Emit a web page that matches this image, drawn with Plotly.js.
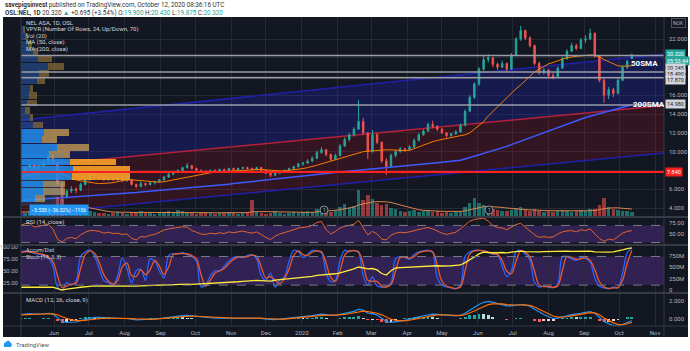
<!DOCTYPE html>
<html><head><meta charset="utf-8">
<script src="https://cdn.plot.ly/plotly-3.0.1.min.js"></script>
<style>html,body{margin:0;padding:0;background:#fff;}#chart{width:690px;height:351px;}</style>
</head><body><div id="chart"></div>
<script>
const startDate = '2019-05-03';
const stepDays = 4;
const openP = [7.8,8.0,8.3,8.6,8.2,8.5,8.8,9.5,8.9,6.6, 5.2,5.8,6.0,5.9,6.5,7.0,7.4,7.5,7.3,7.0, 7.2,7.0,7.1,6.9,7.0,6.5,6.3,6.6,6.5,6.7, 6.8,7.0,7.3,7.6,7.8,8.0,8.3,8.5,8.2,8.0, 7.9,7.8,8.0,7.9,8.1,8.0,8.2,8.1,8.2,8.3, 8.2,8.1,8.3,8.0,7.7,7.5,7.7,7.9,8.0,8.2, 8.4,8.7,8.8,9.0,9.3,9.9,10.2,9.7,9.2,9.6, 10.6,11.3,11.8,12.4,13.2,12.0,10.0,11.8,11.0,9.0, 8.4,9.6,10.0,10.3,10.2,10.5,11.2,11.8,12.2,12.9, 12.7,12.4,12.0,11.7,11.9,12.1,12.8,14.3,15.8,17.2, 18.8,19.8,20.0,19.3,19.0,19.4,18.8,20.3,22.0,22.9, 22.1,21.3,19.4,18.4,18.7,18.1,18.0,18.9,19.9,20.7, 21.3,21.0,21.9,22.0,22.6,20.2,17.6,16.0,16.6,16.2, 17.6,19.0,19.9];
const highP = [8.2,8.4,8.7,8.7,8.6,9.0,9.9,9.7,9.0,6.7, 6.0,6.3,6.2,6.7,7.2,7.6,7.8,7.6,7.4,7.4, 7.3,7.3,7.2,7.2,7.1,6.6,6.8,6.7,6.8,6.9, 7.1,7.4,7.7,7.9,8.1,8.4,8.8,8.6,8.3,8.1, 8.0,8.1,8.1,8.2,8.2,8.3,8.3,8.3,8.4,8.4, 8.3,8.4,8.4,8.1,7.8,7.8,8.0,8.1,8.3,8.5, 8.8,8.9,9.2,9.5,10.1,10.5,10.3,9.8,9.8,10.8, 11.5,12.0,12.6,15.5,13.6,12.1,12.3,12.0,11.1,9.3, 9.8,10.2,10.5,10.4,10.7,11.4,12.0,12.4,13.1,13.3, 12.8,12.5,12.1,12.0,12.3,13.0,14.5,16.0,17.4,19.0, 20.2,20.4,20.1,19.5,19.7,19.5,20.5,22.2,23.4,23.0, 22.3,21.4,19.6,18.9,18.8,18.4,19.1,20.1,20.9,21.6, 21.5,22.1,22.4,23.1,22.7,20.3,17.8,16.9,16.8,17.8, 19.2,19.8,20.43];
const lowP = [7.7,7.9,8.2,8.1,8.1,8.4,8.7,8.8,6.4,4.6, 5.0,5.6,5.6,5.8,6.4,6.9,7.2,7.1,6.9,6.9, 6.9,6.9,6.8,6.8,6.4,6.1,6.2,6.3,6.4,6.5, 6.7,6.9,7.2,7.5,7.7,7.9,8.2,8.1,7.9,7.8, 7.7,7.7,7.8,7.8,7.9,7.9,8.0,8.0,8.1,8.1, 8.0,8.0,7.9,7.6,7.3,7.4,7.6,7.8,7.9,8.1, 8.3,8.5,8.7,8.9,9.2,9.8,9.5,9.0,9.1,9.5, 10.5,11.1,11.6,12.3,11.8,9.2,9.9,10.8,8.8,7.5, 8.3,9.4,9.9,10.0,10.1,10.4,11.1,11.7,12.1,12.5, 12.2,11.9,11.5,11.6,11.8,12.0,12.7,14.2,15.6,17.0, 18.6,19.5,19.0,18.7,18.9,18.5,18.7,20.2,21.8,21.9, 21.1,19.2,18.2,18.2,17.8,17.7,17.9,18.8,19.8,20.6, 20.8,20.9,21.6,21.9,20.0,17.4,15.2,15.6,15.8,16.1, 17.5,18.8,19.875];
const closeP = [8.0,8.3,8.6,8.2,8.5,8.8,9.5,8.9,6.6,5.2, 5.8,6.0,5.9,6.5,7.0,7.4,7.5,7.3,7.0,7.2, 7.0,7.1,6.9,7.0,6.5,6.3,6.6,6.5,6.7,6.8, 7.0,7.3,7.6,7.8,8.0,8.3,8.5,8.2,8.0,7.9, 7.8,8.0,7.9,8.1,8.0,8.2,8.1,8.2,8.3,8.2, 8.1,8.3,8.0,7.7,7.5,7.7,7.9,8.0,8.2,8.4, 8.7,8.8,9.0,9.3,9.9,10.2,9.7,9.2,9.6,10.6, 11.3,11.8,12.4,13.2,12.0,10.0,11.8,11.0,9.0,8.4, 9.6,10.0,10.3,10.2,10.5,11.2,11.8,12.2,12.9,12.7, 12.4,12.0,11.7,11.9,12.1,12.8,14.3,15.8,17.2,18.8, 19.8,20.0,19.3,19.0,19.4,18.8,20.3,22.0,22.9,22.1, 21.3,19.4,18.4,18.7,18.1,18.0,18.9,19.9,20.7,21.3, 21.0,21.9,22.0,22.6,20.2,17.6,16.0,16.6,16.2,17.6, 19.0,19.625,20.32];
const volume = [5,4,6,5,4,5,8,6, 20,18,12,9,7,10,8,6,5, 4,4,3,4,5,4,3,4,5,6,4,4,3,4,5,6,5,7,6,4,4,3,4,5,4,3,4,4,5,4,3,4,5, 17, 5,4,3,4,6,4,3,4,5,4,5,6,5, 8,10,6,5,7,10,13,9,11,27,17,22,18,14,12,13,9,8, 6,5,6,7,5,6,7,5,6,4,5,4,5,6, 10,14,19,14,12,9,8,7,6,6,7,9,10, 7,6,8,6,5,6,5,6,7,6,5,6,7,6,8, 8,12,19,10,8,7,6,6,5];
const volMA = [5,5,5,5,5,5,5.5,5.5, 7,9,10,11,11,11,10,9,8, 7,6,5.5,5,4.8,4.6,4.5,4.5,4.5,4.6,4.6,4.5,4.4,4.4,4.5,4.7,4.9,5,5,4.9,4.7,4.5,4.4,4.4,4.3,4.2,4.2,4.2,4.3,4.3,4.3,4.3,4.4, 5.2, 5.5,5.5,5.4,5.3,5.2,4.8,4.5,4.4,4.4,4.4,4.5,4.6,4.7, 5,5.5,6,6.3,6.7,7.3,8.2,9,10,12,13.2,14.2,15,15.4,15.5,15.2,14.5,13.3, 12,10.5,9,8,7.2,6.6,6.2,6,5.8,5.7,5.6,5.5,5.5,5.6, 6.2,7.2,8.6,9.6,10.3,10.6,10.5,10.1,9.6,9,8.4,8,7.8, 7.4,7,6.9,6.7,6.5,6.3,6.2,6.1,6.1,6.1,6.1,6.1,6.2,6.2,6.3, 6.5,7.2,8.4,9,9.2,9.1,8.8,8.4,8];
const sma50 = [7.3,7.4,7.5,7.6,7.7,7.8,7.9,7.9,7.8,7.6, 7.4,7.2,7.0,6.9,6.8,6.7,6.65,6.6,6.6,6.65, 6.7,6.8,6.9,7.0,7.0,6.95,6.9,6.85,6.8,6.75, 6.75,6.8,6.9,7.0,7.1,7.2,7.3,7.4,7.5,7.6, 7.7,7.75,7.8,7.85,7.9,7.9,7.95,8.0,8.0,8.05, 8.1,8.1,8.1,8.05,8.0,7.95,7.95,7.95,8.0,8.05, 8.1,8.2,8.3,8.4,8.55,8.7,8.85,9.0,9.1,9.25, 9.4,9.55,9.7,9.85,10.0,10.05,10.1,10.15,10.2,10.2, 10.2,10.15,10.1,10.1,10.15,10.3,10.5,10.7,10.9,11.05, 11.2,11.3,11.4,11.5,11.6,11.7,11.8,12.0,12.4,12.8, 13.2,13.8,14.3,14.8,15.2,15.7,16.2,16.7,17.1,17.6, 18.1,18.5,18.8,19.1,19.35,19.5,19.7,19.85,20.0,20.1, 20.15,20.2,20.25,20.3,20.25,20.1,19.8,19.6,19.35,19.15, 19.1,19.1,19.15];
const sma200 = [4.8,4.83,4.87,4.9,4.94,4.97,5.0,5.04,5.07,5.1, 5.14,5.17,5.2,5.24,5.27,5.31,5.34,5.37,5.41,5.44, 5.48,5.51,5.55,5.58,5.61,5.65,5.7,5.74,5.79,5.83, 5.88,5.92,5.96,6.01,6.05,6.1,6.14,6.19,6.23,6.28, 6.32,6.37,6.41,6.45,6.5,6.54,6.6,6.65,6.71,6.76, 6.81,6.87,6.92,6.98,7.03,7.08,7.14,7.19,7.24,7.3, 7.35,7.41,7.46,7.51,7.57,7.62,7.68,7.73,7.78,7.84, 7.89,7.95,8.0,8.05,8.09,8.14,8.18,8.23,8.28,8.32, 8.37,8.41,8.46,8.51,8.55,8.6,8.64,8.69,8.74,8.78, 8.83,8.87,8.92,8.97,9.01,9.08,9.22,9.36,9.5,9.64, 9.78,9.92,10.06,10.2,10.37,10.56,10.75,10.93,11.12,11.31, 11.5,11.69,11.87,12.06,12.24,12.42,12.6,12.79,12.97,13.15, 13.33,13.5,13.64,13.78,13.92,14.06,14.19,14.33,14.47,14.61, 14.75,14.88,15.0];
const rsi = [70,74,75,66,68,70,73,62,38,31, 40,42,39,48,54,58,58,56,52,54, 51,52,49,50,40,36,44,43,47,49, 54,59,62,64,66,67,66,58,54,50, 49,52,50,53,51,55,53,55,57,54, 52,55,48,42,37,45,50,53,57,60, 64,65,67,70,77,79,60,50,56,64, 68,70,73,82,64,48,56,50,38,36, 47,52,54,53,55,58,61,63,65,62, 57,52,49,51,54,62,72,80,84,86, 87,80,70,65,64,60,66,72,75,66, 58,48,42,44,42,43,50,55,57,58, 55,60,58,62,50,40,33,38,36,45, 52,56,58];
const stochK = [90,92,89,87,85,82,78,60,16,10, 25,20,28,80,90,94,80,55,30,25, 20,40,77,55,25,50,53,30,75,70, 50,35,82,86,85,88,84,80,70,16, 20,40,50,50,60,70,78,80,78,82, 84,75,40,30,45,16,30,37,70,93, 90,78,85,93,92,88,45,27,30,72, 93,90,93,88,40,20,37,18,16,17, 25,75,80,78,74,85,90,92,93,88, 35,20,16,14,12,20,80,90,93,93, 92,88,85,84,60,38,50,90,93,85, 73,25,16,18,16,15,22,79,80,75, 72,78,76,68,35,18,14,12,16,14, 45,88,98];
const stochD = [88,90,90,88,86,84,80,70,40,15, 18,22,24,55,84,92,87,68,42,28, 22,30,58,66,40,38,52,42,52,72, 60,42,58,84,86,86,86,82,75,42, 18,30,45,50,55,65,74,79,79,80, 83,80,58,35,38,30,23,34,54,82, 92,84,82,89,92,90,66,36,28,50, 83,92,92,90,64,30,28,28,17,16, 21,50,78,79,76,80,88,91,92,90, 62,28,18,15,13,16,50,85,92,93, 92,90,86,84,72,49,44,70,92,89, 79,49,20,17,17,15,18,50,80,78, 74,75,77,72,52,27,16,13,14,15, 30,66,93];
const accumDistM = [60,62,65,63,66,68,70,62, 30,0,20,40,45,60,75,85,90, 88,86,90,92,95,93,90,88,86,90,95,98,100,105, 110,115,120,125,130,128,125,130,132,135,138,140,145,150,160,170,180,190,200,205, 210,205,200,195,215,225,235,245,255,262,270,285,300,320,330, 325,340,355,372,400,430,460,503,480,460,470,440,360,328,420, 481,490,495,503,510,520,530,535,540,530,525,520,530,540,547, 600,656,720,790,830,820,810,815,820,810,830,845,850,840,835, 830,835,840,845,840,850,855,850,845,850,855,860,850,835,830, 825,830,835,850,880,905,920];
const macd = [0.45,0.5,0.55,0.5,0.5,0.52,0.6,0.5,0.1,-0.35, -0.45,-0.45,-0.4,-0.25,-0.1,0.05,0.12,0.12,0.08,0.06, 0.03,0.02,0.0,0.0,-0.08,-0.15,-0.13,-0.12,-0.08,-0.05, 0.0,0.08,0.15,0.22,0.28,0.32,0.35,0.3,0.22,0.15, 0.08,0.05,0.03,0.03,0.03,0.05,0.05,0.06,0.07,0.06, 0.05,0.05,0.0,-0.08,-0.14,-0.12,-0.08,-0.03,0.03,0.1, 0.18,0.22,0.28,0.33,0.42,0.5,0.45,0.35,0.35,0.45, 0.58,0.7,0.82,1.05,0.95,0.6,0.55,0.4,0.05,-0.35, -0.45,-0.4,-0.3,-0.2,-0.1,0.05,0.2,0.32,0.45,0.5, 0.48,0.42,0.35,0.3,0.3,0.38,0.6,0.95,1.3,1.6, 1.85,1.95,1.85,1.7,1.55,1.45,1.45,1.55,1.6,1.55, 1.4,1.05,0.7,0.45,0.2,0.0,0.05,0.15,0.3,0.45, 0.5,0.6,0.7,0.8,0.6,0.15,-0.35,-0.6,-0.8,-0.85, -0.7,-0.45,-0.25];
const macdSignal = [0.42,0.45,0.48,0.5,0.5,0.51,0.54,0.53,0.42,0.2, 0.0,-0.15,-0.25,-0.27,-0.22,-0.14,-0.06,0.0,0.04,0.05, 0.05,0.04,0.03,0.02,-0.01,-0.05,-0.08,-0.1,-0.09,-0.08, -0.05,-0.02,0.03,0.09,0.15,0.2,0.25,0.27,0.26,0.23, 0.18,0.13,0.09,0.07,0.05,0.05,0.05,0.05,0.06,0.06, 0.06,0.06,0.04,0.0,-0.05,-0.08,-0.08,-0.07,-0.03,0.02, 0.08,0.13,0.18,0.23,0.29,0.36,0.4,0.39,0.38,0.4, 0.46,0.54,0.63,0.76,0.84,0.78,0.7,0.6,0.42,0.15, -0.08,-0.22,-0.27,-0.26,-0.2,-0.1,0.02,0.14,0.26,0.36, 0.42,0.43,0.4,0.36,0.33,0.34,0.43,0.6,0.85,1.12, 1.38,1.58,1.68,1.7,1.66,1.59,1.54,1.54,1.56,1.56, 1.5,1.32,1.05,0.78,0.5,0.28,0.15,0.14,0.2,0.3, 0.38,0.47,0.56,0.66,0.64,0.42,0.05,-0.25,-0.5,-0.67, -0.7,-0.6,-0.45];
// Visible-range volume profile (24 rows)
const vpRowPrice = [4.99,5.78,6.56,7.34,8.13,8.91,9.69,10.48,11.26,12.04,12.83,13.61,14.39,15.18,15.96,16.74,17.53,18.31,19.10,19.88,20.66,21.45,22.23,23.02];
const vpUpVol   = [14,22,22,51,52,49,28,36,21,23,12,9,4,6,8,9,16,18,27,17,12,7,4,2];
const vpDownVol = [10,22,22,58,57,46,21,32,15,25,10,3,5,10,8,3,8,10,16,14,5,4,3,2];
// Ticks / labels
const monthTicks = ['2019-06-01','2019-07-01','2019-08-01','2019-09-01','2019-10-01','2019-11-01','2019-12-01','2020-01-01','2020-02-01','2020-03-01','2020-04-01','2020-05-01','2020-06-01','2020-07-01','2020-08-01','2020-09-01','2020-10-01','2020-11-01'];
const monthLabels = ['Jun','Jul','Aug','Sep','Oct','Nov','Dec','2020','Feb','Mar','Apr','May','Jun','Jul','Aug','Sep','Oct','Nov'];
const priceTicks = [4,6,8,10,12,14,16,18,20,22];
const priceTickText = ['4.000','6.000','','10.000','12.000','14.000','16.000','','','22.000'];
// Drawings: horizontal levels and channels
const levelPrices = [20.245, 18.49, 17.87, 14.98];
const supportPrice = 7.84;
const channelDates = ['2019-05-03', '2020-11-09'];
const channelTop = [13.37, 20.40];
const channelMid = [8.37, 14.92];
const channelBot = [3.25, 9.86];

// ---------- BUILD ----------
const dates = openP.map((_, i) => { const d = new Date(Date.UTC(2019, 4, 3)); d.setUTCDate(d.getUTCDate() + i * stepDays); return d.toISOString().slice(0, 10); });
const F = 'Roboto, "Liberation Sans", sans-serif';
const L = 21, R = 664, T = 17, B = 326;
const px = x => (x - L) / (R - L);
const py = y => (B - y) / (B - T);
const up = '#26a69a', dn = '#ef5350';

const volColors = closeP.map((c, i) => c >= openP[i] ? 'rgba(38,166,154,0.6)' : 'rgba(239,83,80,0.6)');
const hist = macd.map((m, i) => +(m - macdSignal[i]).toFixed(3));
const histColors = hist.map((h, i) => { const p = i ? hist[i-1] : h; return h >= 0 ? (h >= p ? '#26a69a' : '#b2dfdb') : (h < p ? '#ff5252' : '#ffcdd2'); });
const vpUpColors = vpUpVol.map((_, i) => i <= 9 ? 'rgba(33,140,235,0.85)' : 'rgba(40,90,170,0.55)');
const vpDnColors = vpDownVol.map((_, i) => (i >= 3 && i <= 5) ? 'rgba(250,160,40,0.9)' : (i <= 9 ? 'rgba(205,160,80,0.75)' : 'rgba(160,125,60,0.6)'));

const traces = [
  {type:'candlestick', x:dates, open:openP, high:highP, low:lowP, close:closeP, xaxis:'x', yaxis:'y',
   increasing:{line:{color:up, width:1}, fillcolor:up}, decreasing:{line:{color:dn, width:1}, fillcolor:dn}, whiskerwidth:0, hoverinfo:'skip'},
  {type:'scatter', mode:'lines', x:dates, y:sma50, line:{color:'#f57c00', width:1}, xaxis:'x', yaxis:'y', hoverinfo:'skip'},
  {type:'scatter', mode:'lines', x:dates, y:sma200, line:{color:'#3d5afe', width:1.5}, xaxis:'x', yaxis:'y', hoverinfo:'skip'},
  {type:'bar', x:dates, y:volume, marker:{color:volColors}, width:3*86400000, xaxis:'x', yaxis:'y2', hoverinfo:'skip'},
  {type:'scatter', mode:'lines', x:dates, y:volMA, line:{color:'#d9844a', width:1}, xaxis:'x', yaxis:'y2', hoverinfo:'skip'},
  {type:'bar', orientation:'h', y:vpRowPrice, x:vpUpVol, width:0.72, marker:{color:vpUpColors}, xaxis:'x2', yaxis:'y', hoverinfo:'skip'},
  {type:'bar', orientation:'h', y:vpRowPrice, x:vpDownVol, width:0.72, marker:{color:vpDnColors}, xaxis:'x2', yaxis:'y', hoverinfo:'skip'},
  {type:'scatter', mode:'lines', x:dates, y:rsi, line:{color:'#e3652d', width:1}, xaxis:'x', yaxis:'y3', hoverinfo:'skip'},
  {type:'scatter', mode:'lines', x:dates, y:stochK, line:{color:'#2962ff', width:1.3, shape:'spline'}, xaxis:'x', yaxis:'y4', hoverinfo:'skip'},
  {type:'scatter', mode:'lines', x:dates, y:stochD, line:{color:'#e65a2a', width:1.3, shape:'spline'}, xaxis:'x', yaxis:'y4', hoverinfo:'skip'},
  {type:'scatter', mode:'lines', x:dates, y:accumDistM, line:{color:'#ffeb3b', width:1.3}, xaxis:'x', yaxis:'y5', hoverinfo:'skip'},
  {type:'bar', x:dates, y:hist, marker:{color:histColors}, width:2.5*86400000, xaxis:'x', yaxis:'y6', hoverinfo:'skip'},
  {type:'scatter', mode:'lines', x:dates, y:macd, line:{color:'#2196f3', width:1.2}, xaxis:'x', yaxis:'y6', hoverinfo:'skip'},
  {type:'scatter', mode:'lines', x:dates, y:macdSignal, line:{color:'#ff6d00', width:1.2}, xaxis:'x', yaxis:'y6', hoverinfo:'skip'}
];

const grid = '#262a35';
const tf = {family:F, size:6, color:'#b2b5be'};
const yBase = {showgrid:false, zeroline:false, showline:false, ticks:'', tickfont:tf, fixedrange:true, ticklabelstandoff:4};
const layout = {
  width:690, height:351, margin:{l:L, r:690-R, t:T, b:351-B},
  paper_bgcolor:'#ffffff', plot_bgcolor:'#131722', showlegend:false, barmode:'stack', hovermode:false, boxgap:0.55,
  font:{family:F, size:6, color:'#b2b5be'},
  xaxis:{type:'date', range:['2019-05-03 12:00','2020-11-08 18:30'], domain:[0,1], anchor:'y6', tickvals:monthTicks, ticktext:monthLabels,
         showgrid:true, gridcolor:grid, gridwidth:1, zeroline:false, showline:false, ticks:'', tickfont:tf, ticklabelstandoff:2, rangeslider:{visible:false}, fixedrange:true},
  xaxis2:{overlaying:'x', anchor:'y', range:[0, R-L], visible:false, fixedrange:true},
  yaxis:Object.assign({}, yBase, {domain:[py(217),1], side:'right', anchor:'x', range:[3.041,24.343], tickvals:priceTicks, ticktext:priceTickText, showgrid:true, gridcolor:grid}),
  yaxis2:{overlaying:'y', anchor:'x', range:[0,200], visible:false, fixedrange:true},
  yaxis3:Object.assign({}, yBase, {domain:[py(245),py(217)], side:'right', anchor:'x', range:[24.3,89.7], tickvals:[50,75], ticktext:['50.00','75.00']}),
  yaxis4:Object.assign({}, yBase, {domain:[py(293),py(245)], side:'left', anchor:'x', range:[3.4,104.2], tickvals:[25,50,75,100], ticktext:['25.00','50.00','75.00','100.00'], ticklabelstandoff:2}),
  yaxis5:Object.assign({}, yBase, {overlaying:'y4', side:'right', anchor:'x', range:[-65.6,984], tickvals:[0,250,500,750], ticktext:['0','250M','500M','750M']}),
  yaxis6:Object.assign({}, yBase, {domain:[0,py(293)], side:'right', anchor:'x', range:[-0.857,2.914], tickvals:[0,2], ticktext:['0.000','2.000']}),
  shapes:[], annotations:[]
};
const S = layout.shapes, A = layout.annotations;
// dark chart frame
S.push({type:'rect', xref:'paper', yref:'paper', x0:px(3), x1:px(688), y0:py(337), y1:py(17), fillcolor:'#131722', line:{width:0}, layer:'below'});
// channels
const pth = (a, b) => `M ${channelDates[0]} ${a[0]} L ${channelDates[1]} ${a[1]} L ${channelDates[1]} ${b[1]} L ${channelDates[0]} ${b[0]} Z`;
S.push({type:'path', xref:'x', yref:'y', path:pth(channelTop, channelMid), fillcolor:'rgba(35,35,190,0.28)', line:{width:0}, layer:'between'});
S.push({type:'path', xref:'x', yref:'y', path:pth(channelMid, channelBot), fillcolor:'rgba(170,20,35,0.22)', line:{width:0}, layer:'between'});
[[channelTop,'#2020a8'],[channelMid,'#b3203a'],[channelBot,'#2020a8']].forEach(([c,col]) =>
  S.push({type:'line', xref:'x', yref:'y', x0:channelDates[0], x1:channelDates[1], y0:c[0], y1:c[1], line:{color:col, width:1.5}, layer:'between'}));
levelPrices.forEach(p => S.push({type:'line', xref:'paper', yref:'y', x0:0, x1:1, y0:p, y1:p, line:{color:'#9a9da6', width:1.5}}));
S.push({type:'line', xref:'paper', yref:'y', x0:0, x1:1, y0:supportPrice, y1:supportPrice, line:{color:'#ff1f1f', width:2}});
// indicator bands
S.push({type:'rect', xref:'paper', yref:'y3', x0:0, x1:1, y0:30, y1:70, fillcolor:'rgba(120,60,200,0.3)', line:{width:0}, layer:'between'});
S.push({type:'rect', xref:'paper', yref:'y4', x0:0, x1:1, y0:20, y1:80, fillcolor:'rgba(120,60,200,0.3)', line:{width:0}, layer:'between'});
[['y3',70],['y3',30],['y4',80],['y4',20]].forEach(([r,v]) => S.push({type:'line', xref:'paper', yref:r, x0:0, x1:1, y0:v, y1:v, line:{color:'#787b86', width:1, dash:'dash'}}));
// measure box
S.push({type:'rect', xref:'paper', yref:'y', x0:0, x1:px(64), y0:4.25, y1:9.78, fillcolor:'rgba(33,150,243,0.18)', line:{width:0}});
// pane separators / borders
[217,245,293].forEach(y => S.push({type:'line', xref:'paper', yref:'paper', x0:px(3), x1:px(688), y0:py(y), y1:py(y), line:{color:'#363a45', width:2}}));
S.push({type:'line', xref:'paper', yref:'paper', x0:px(3), x1:px(688), y0:0, y1:0, line:{color:'#363a45', width:1}});
S.push({type:'line', xref:'paper', yref:'paper', x0:1, x1:1, y0:py(337), y1:1, line:{color:'#363a45', width:1}});
S.push({type:'line', xref:'paper', yref:'paper', x0:0, x1:0, y0:py(337), y1:1, line:{color:'#363a45', width:1}});
// earnings markers
[[324,210],[489,210]].forEach(([x,y]) => S.push({type:'circle', xref:'paper', yref:'paper', x0:px(x-4), x1:px(x+4), y0:py(y+4), y1:py(y-4), fillcolor:'#131722', line:{color:'#8a8e98', width:1}}));
// TradingView logo icon
S.push({type:'path', xref:'paper', yref:'paper', path:`M ${px(4)} ${py(347)} L ${px(11)} ${py(347)} Q ${px(13)} ${py(344)} ${px(10)} ${py(342)} Q ${px(8)} ${py(339)} ${px(6)} ${py(342)} Q ${px(3)} ${py(343)} ${px(4)} ${py(347)} Z`, fillcolor:'#2196f3', line:{width:0}});

const ann = (x, y, text, o) => A.push(Object.assign({xref:'paper', yref:'paper', x:px(x), y:py(y), text, showarrow:false, xanchor:'left', yanchor:'middle', font:{family:F, size:6, color:'#d1d4dc'}}, o || {}));
ann(3, 5, '<b>savepigsinvest</b> published on TradingView.com, October 12, 2020 08:36:16 UTC', {font:{family:F, size:6.3, color:'#333'}});
ann(3, 12.5, '<b>OSL:NEL, 1D</b> 20.320 <span style="color:#26a69a">▲</span> +0.695 (+3.54%) O:<span style="color:#26a69a">19.900</span> H:<span style="color:#26a69a">20.430</span> L:<span style="color:#26a69a">19.875</span> C:<span style="color:#26a69a">20.320</span>', {font:{family:F, size:6.3, color:'#333'}});
['NEL ASA, 1D, OSL','VPVR (Number Of Rows, 24, Up/Down, 70)','Vol (20)','MA (50, close)','MA (200, close)'].forEach((t,i) => ann(24, 22.7 + i*6.5, t));
ann(24, 222, 'RSI (14, close)');
ann(24, 250, 'Accum/Dist', {font:{family:F, size:5.3, color:'#d1d4dc'}});
ann(24, 257.5, 'Stoch (14, 3, 3)', {font:{family:F, size:5.3, color:'#d1d4dc'}});
ann(24, 300, 'MACD (12, 26, close, 9)');
ann(629, 64, '<b>50SMA</b>', {font:{family:F, size:8, color:'#ffffff'}});
ann(631, 104, '<b>200SMA</b>', {font:{family:F, size:8, color:'#ffffff'}});
const box = (y, t, bg, fg) => ann(665, y, t, {bgcolor:bg, borderpad:1, font:{family:F, size:5.5, color:fg}});
box(54.5, '20.320', '#26a69a', '#ffffff');
box(61, '05:53:44', '#26a69a', '#ffffff');
box(68, '20.245', '#d1d4dc', '#131722');
box(74.3, '18.490', '#d1d4dc', '#131722');
box(80.5, '17.870', '#d1d4dc', '#131722');
box(104.3, '14.980', '#d1d4dc', '#131722');
box(172, '7.840', '#ff1f1f', '#ffffff');
ann(671, 23, 'NOK', {bordercolor:'#50535e', borderwidth:1, borderpad:1, font:{family:F, size:5, color:'#b2b5be'}});
ann(29, 210.5, '−5.530 (−56.52%) −1106', {bgcolor:'#2196f3', borderpad:1.5, font:{family:F, size:5, color:'#ffffff'}});
ann(324, 210, '1', {xanchor:'center', font:{family:F, size:5, color:'#b2b5be'}});
ann(489, 210, '1', {xanchor:'center', font:{family:F, size:5, color:'#b2b5be'}});
ann(14, 344, 'TradingView', {font:{family:F, size:6, color:'#555'}});

Plotly.newPlot('chart', traces, layout, {staticPlot:true, displayModeBar:false});
</script></body></html>
